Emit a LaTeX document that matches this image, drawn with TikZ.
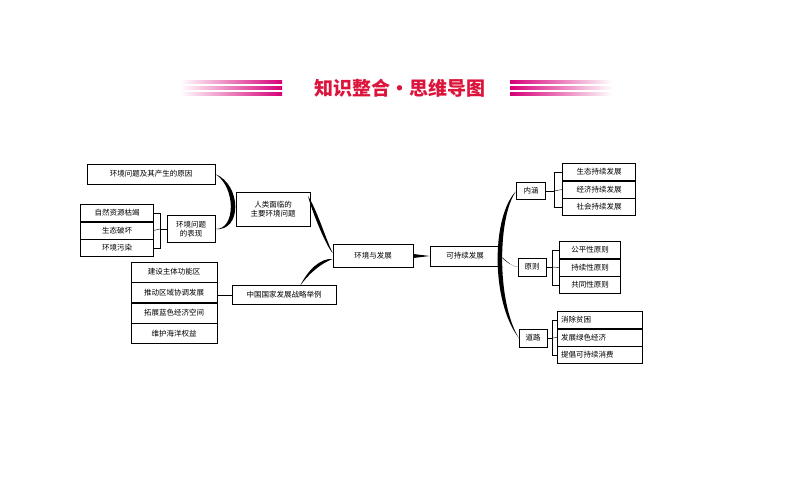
\documentclass[tikz,border=0pt]{standalone}
\usepackage{fontspec}
\newfontfamily\cjk{Noto Sans CJK SC}
\usetikzlibrary{positioning}
\definecolor{titlered}{RGB}{220,20,60}
\definecolor{barpink}{RGB}{215,0,120}

\tikzset{
  box/.style={draw, line width=0.5pt, inner sep=2pt, font=\cjk\fontsize{7.5}{9}\selectfont, align=center},
  item/.style={box, minimum height=17pt},
  taper/.style={fill=black},
  link/.style={draw, line width=0.4pt}
}

\begin{document}
\begin{tikzpicture}[x=1pt,y=-1pt]
  \useasboundingbox (0,0) rectangle (794,495);

  % Title
  \node[font=\cjk\bfseries\fontsize{19}{21}\selectfont, text=titlered] (title) at (400,88) {知识整合·思维导图};
  \foreach \yy in {82,88,94} {
    \shade[left color=white, right color=barpink] (180,\yy-1.2) rectangle (282,\yy+1.2);
    \shade[left color=barpink, right color=white] (510,\yy-1.2) rectangle (612,\yy+1.2);
  }

  % Define nodes
  \node[box, minimum width=128pt, minimum height=20pt] (cause) at (151,174) {环境问题及其产生的原因};
  \node[box, minimum width=74pt, minimum height=34pt]  (human) at (273,209) {人类面临的\\主要环境问题};
  \node[box, minimum width=48pt, minimum height=27pt]  (show)  at (191,229) {环境问题\\的表现};
  \node[item, minimum width=73pt] (s1) at (117,213) {自然资源枯竭};
  \node[item, minimum width=73pt, below=0pt of s1] (s2) {生态破坏};
  \node[item, minimum width=73pt, below=0pt of s2] (s3) {环境污染};
  \node[box, minimum width=80pt, minimum height=23pt] (env) at (373,256) {环境与发展};
  \node[box, minimum width=70pt, minimum height=20pt] (sus) at (465,256) {可持续发展};
  \node[box, minimum width=104pt, minimum height=19pt] (china) at (284,295) {中国国家发展战略举例};
  \node[item, minimum width=86pt, minimum height=20pt] (c1) at (174,272) {建设主体功能区};
  \node[item, minimum width=86pt, minimum height=20pt, below=0pt of c1] (c2) {推动区域协调发展};
  \node[item, minimum width=86pt, minimum height=20pt, below=0pt of c2] (c3) {拓展蓝色经济空间};
  \node[item, minimum width=86pt, minimum height=20pt, below=0pt of c3] (c4) {维护海洋权益};

  \node[box, minimum width=29pt, minimum height=17pt] (mean) at (531,191) {内涵};
  \node[item, minimum width=73pt] (m1) at (599,172) {生态持续发展};
  \node[item, minimum width=73pt, below=0pt of m1] (m2) {经济持续发展};
  \node[item, minimum width=73pt, below=0pt of m2] (m3) {社会持续发展};
  \node[box, minimum width=28pt, minimum height=18pt] (rule) at (532,267) {原则};
  \node[item, minimum width=61pt] (r1) at (590,250) {公平性原则};
  \node[item, minimum width=61pt, below=0pt of r1] (r2) {持续性原则};
  \node[item, minimum width=61pt, below=0pt of r2] (r3) {共同性原则};
  \node[box, minimum width=28pt, minimum height=18pt] (way) at (533,338) {道路};
  \node[item, minimum width=85pt, align=left, text width=78pt] (w1) at (600,320) {消除贫困};
  \node[item, minimum width=85pt, align=left, text width=78pt, below=0pt of w1] (w2) {发展绿色经济};
  \node[item, minimum width=85pt, align=left, text width=78pt, below=0pt of w2] (w3) {提倡可持续消费};

  % Tapered branches
  \fill[taper] (cause.east) .. controls (242,185) and (242,232) .. (show.east)
               .. controls (236,230) and (236,187) .. (cause.east);
  \fill[taper] (308,196) .. controls (318,212) and (326,240) .. ([yshift=3]env.west)
               .. controls (327,248) and (312,212) .. (308,196);
  \fill[taper] (300,286) .. controls (308,270) and (320,258) .. ([yshift=-3]env.west)
               .. controls (322,263) and (310,272) .. (300,286);
  \fill[taper] ([yshift=-2]env.east) -- (sus.west) -- ([yshift=2]env.east) -- cycle;
  \fill[taper] (mean.west) .. controls (492,215) and (490,300) .. (way.west)
               .. controls (496,300) and (498,215) .. (mean.west);
  \fill[taper] (sus.east) .. controls (506,262) and (512,266) .. (rule.west)
               .. controls (510,266) and (504,258) .. (sus.east);

  % Brackets
  \draw[link] (show.west) -- ++(-7,0) coordinate (bs);
  \draw[link] (s1.east) -| (bs) |- (s3.east);
  \draw[link] (s2.east) -- (bs);
  \draw[link] (china.west) -- (c2.east |- china.west);
  \draw[link] (mean.east) -- ++(8,0) coordinate (bm);
  \draw[link] (m1.west) -| (bm) |- (m3.west);
  \draw[link] (m2.west) -- (bm);
  \draw[link] (rule.east) -- ++(6,0) coordinate (br);
  \draw[link] (r1.west) -| (br) |- (r3.west);
  \draw[link] (r2.west) -- (br);
  \draw[link] (way.east) -- ++(5,0) coordinate (bw);
  \draw[link] (w1.west) -| (bw) |- (w3.west);
  \draw[link] (w2.west) -- (bw);

\end{tikzpicture}
\end{document}
